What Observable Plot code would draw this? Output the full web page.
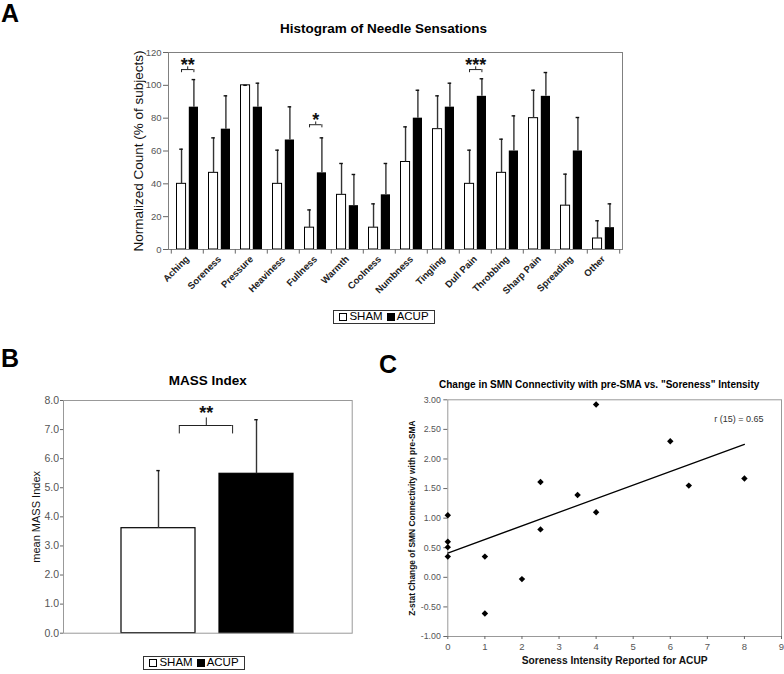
<!DOCTYPE html>
<html>
<head>
<meta charset="utf-8">
<script src="https://cdn.jsdelivr.net/npm/d3@7"></script>
<script src="https://cdn.jsdelivr.net/npm/@observablehq/plot@0.6"></script>
<style>
  html, body { margin: 0; padding: 0; background: #fff; }
  #root { position: relative; width: 784px; height: 674px; overflow: hidden;
          font-family: "Liberation Sans", Arial, Helvetica, sans-serif; color: #000; background: #fff; }
  #root svg { position: absolute; }
  .letter { position: absolute; font-weight: bold; font-size: 25px; line-height: 1; }
  .legend { position: absolute; box-sizing: border-box; border: 1px solid #333; background: #fff;
            font-size: 11.5px; line-height: 1; display: flex; align-items: center; justify-content: center;
            white-space: nowrap; }
  .legend .item { display: flex; align-items: center; margin: 0 2px; }
  .legend .sw { display: inline-block; width: 8px; height: 8px; border: 1px solid #000; box-sizing: border-box; margin-right: 2px; }
</style>
</head>
<body>
<div id="root"></div>
<script>
// ---------------- Panel A data ----------------
const categories = ["Aching", "Soreness", "Pressure", "Heaviness", "Fullness", "Warmth", "Coolness",
                    "Numbness", "Tingling", "Dull Pain", "Throbbing", "Sharp Pain", "Spreading", "Other"];
const groups = ["SHAM", "ACUP"];
const groupColors = ["#ffffff", "#000000"];
const shamCount = [40, 46.7, 100, 40, 13.3, 33.3, 13.3, 53.3, 73.3, 40, 46.7, 80, 26.7, 6.7];
const shamSD    = [21.1, 21.3, 0, 20.5, 10.8, 19.1, 14.5, 21.4, 20.3, 20.5, 20.5, 17.0, 19.2, 10.8];
const acupCount = [86.7, 73.3, 86.7, 66.7, 46.7, 26.7, 33.3, 80, 86.7, 93.3, 60, 93.3, 60, 13.3];
const acupSD    = [16.8, 20.3, 14.6, 20.2, 21.3, 19.0, 19.1, 17.0, 14.6, 10.7, 21.4, 14.5, 20.4, 14.5];
const countTicks = [0, 20, 40, 60, 80, 100, 120];
const sigCategories = ["Aching", "Fullness", "Dull Pain"];
const sigStars = ["**", "*", "***"];
const sigLevel = [109.6, 76, 109.6];

// ---------------- Panel B data ----------------
const massMean = [3.61, 5.48];
const massSD = [1.98, 1.86];
const massTicks = [0, 1, 2, 3, 4, 5, 6, 7, 8];
const massSigStars = ["**"];
const massSigLevel = [7.14];

// ---------------- Panel C data ----------------
const soreness = [0, 0, 0, 0, 1, 1, 2, 2.5, 2.5, 3.5, 4, 4, 6, 6.5, 8];
const zChange  = [1.05, 0.60, 0.51, 0.35, 0.35, -0.61, -0.03, 1.61, 0.81, 1.39, 2.92, 1.10, 2.30, 1.55, 1.67];
const sorenessTicks = [0, 1, 2, 3, 4, 5, 6, 7, 8, 9];
const zTicks = [-1, -0.5, 0, 0.5, 1, 1.5, 2, 2.5, 3];
const corrLabel = ["r (15) = 0.65"];

// ---------------- text ----------------
const titleA = "Histogram of Needle Sensations";
const yLabelA = "Normalized Count (% of subjects)";
const titleB = "MASS Index";
const yLabelB = "mean MASS Index";
const titleC = "Change in SMN Connectivity with pre-SMA vs. \"Soreness\" Intensity";
const yLabelC = "Z-stat Change of SMN Connectivity with pre-SMA";
const xLabelC = "Soreness Intensity Reported for ACUP";

const font = '"Liberation Sans", Arial, Helvetica, sans-serif';
const root = document.getElementById("root");

function place(svg, left, top) {
  svg.style.left = left + "px";
  svg.style.top = top + "px";
  root.appendChild(svg);
}
function letter(t, left, top) {
  const d = document.createElement("div");
  d.className = "letter"; d.textContent = t;
  d.style.left = left + "px"; d.style.top = top + "px";
  root.appendChild(d);
}
function legend(left, top, width, height) {
  const d = document.createElement("div");
  d.className = "legend";
  Object.assign(d.style, {left: left + "px", top: top + "px", width: width + "px", height: height + "px"});
  groups.forEach((g, i) => {
    const it = document.createElement("span"); it.className = "item";
    const sw = document.createElement("span"); sw.className = "sw"; sw.style.background = groupColors[i];
    it.appendChild(sw); it.appendChild(document.createTextNode(g));
    d.appendChild(it);
  });
  root.appendChild(d);
}

// ================= Panel A =================
const A = {w: 784, h: 300, left: 168, right: 622, top: 52, bottom: 249};
const bwA = (A.right - A.left) / categories.length;
const shamX0 = 5.5, shamX1 = 15, acupX0 = 17.8, acupX1 = bwA - 5;
const cS = (shamX0 + shamX1) / 2, cA = (acupX0 + acupX1) / 2, capHalf = 2;
const rowsA = categories.flatMap((c, i) => [
  {cat: c, group: groups[0], value: shamCount[i], sd: shamSD[i]},
  {cat: c, group: groups[1], value: acupCount[i], sd: acupSD[i]}
]);
const shamRows = rowsA.filter(d => d.group === groups[0]);
const acupRows = rowsA.filter(d => d.group === groups[1]);
const sigRows = sigCategories.map((c, i) => ({cat: c, stars: sigStars[i], level: sigLevel[i]}));
const errColor = "#333";

const plotA = Plot.plot({
  width: A.w, height: A.h,
  marginLeft: A.left, marginRight: A.w - A.right, marginTop: A.top, marginBottom: A.h - A.bottom,
  style: {fontFamily: font, background: "transparent", overflow: "visible"},
  x: {type: "band", domain: categories, padding: 0, axis: null},
  y: {domain: [0, 120], axis: null},
  marks: [
    Plot.barY(shamRows, {x: "cat", y: "value", fill: groupColors[0], stroke: "#000", strokeWidth: 1,
                         insetLeft: shamX0, insetRight: bwA - shamX1}),
    Plot.barY(acupRows, {x: "cat", y: "value", fill: groupColors[1], insetLeft: acupX0, insetRight: bwA - acupX1}),
    Plot.ruleX(shamRows, {x: "cat", y1: "value", y2: d => d.value + d.sd, dx: cS - bwA / 2, stroke: errColor, strokeWidth: 1.4}),
    Plot.ruleX(acupRows, {x: "cat", y1: "value", y2: d => d.value + d.sd, dx: cA - bwA / 2, stroke: errColor, strokeWidth: 1.4}),
    Plot.tickY(shamRows, {x: "cat", y: d => d.value + d.sd, insetLeft: cS - capHalf, insetRight: bwA - cS - capHalf, stroke: "#111", strokeWidth: 1.4}),
    Plot.tickY(acupRows, {x: "cat", y: d => d.value + d.sd, insetLeft: cA - capHalf, insetRight: bwA - cA - capHalf, stroke: "#111", strokeWidth: 1.4}),
    // significance brackets
    Plot.tickY(sigRows, {x: "cat", y: "level", insetLeft: cS, insetRight: bwA - cA, stroke: "#222"}),
    Plot.ruleX(sigRows, {x: "cat", dx: cS - bwA / 2, y1: "level", y2: d => d.level - 1.9, stroke: "#222"}),
    Plot.ruleX(sigRows, {x: "cat", dx: cA - bwA / 2, y1: "level", y2: d => d.level - 1.9, stroke: "#222"}),
    Plot.ruleX(sigRows, {x: "cat", dx: (cS + cA) / 2 - bwA / 2, y1: "level", y2: d => d.level + 1.7, stroke: "#222"}),
    Plot.text(sigRows, {x: "cat", y: d => d.level + 2.8, text: "stars", dx: (cS + cA) / 2 - bwA / 2,
                        fontSize: 18, fontWeight: "bold", fill: "#111"}),
    Plot.frame({stroke: "#808080"}),
    Plot.axisY(countTicks, {tickSize: 5, tickPadding: 2, fontSize: 9.5, stroke: "#666", fill: "#555", label: null}),
    Plot.axisX({tickSize: 0, tickPadding: 8, tickRotate: -45, fontSize: 9.5, fontWeight: "bold", fill: "#222", label: null}),
    Plot.ruleX(categories, {x: d => d, dx: -bwA / 2, y1: 0, y2: -2.8, stroke: "#666"}),
    Plot.ruleX(categories.slice(-1), {x: d => d, dx: bwA / 2, y1: 0, y2: -2.8, stroke: "#666"}),
    Plot.text([yLabelA], {text: d => d, frameAnchor: "left", textAnchor: "middle", rotate: -90, dx: -30, fontSize: 13.5, fill: "#111"}),
    Plot.text([titleA], {text: d => d, frameAnchor: "top", dx: -12, dy: -28.8, fontSize: 13.5, fontWeight: "bold"})
  ]
});
place(plotA, 0, 0);
letter("A", 1, 1);
legend(333, 310, 102, 14);

// ================= Panel B =================
const B = {x: 0, y: 330, w: 392, h: 320, left: 63, right: 351.7, top: 400, bottom: 632.7};
const padInnerB = 0.24, padOuterB = 0.59;
const stepB = (B.right - B.left) / (groups.length - padInnerB + 2 * padOuterB);
const bwB = stepB * (1 - padInnerB);
const rowsB = groups.map((g, i) => ({group: g, mean: massMean[i], sd: massSD[i]}));
const sigB = massSigStars.map((s, i) => ({from: groups[0], to: groups[1], stars: s, level: massSigLevel[i]}));
const legL = 20.8, legR = -23.9, stemB = 47.8;

const plotB = Plot.plot({
  width: B.w, height: B.h,
  marginLeft: B.left, marginRight: B.w - B.right, marginTop: B.top - B.y, marginBottom: B.y + B.h - B.bottom,
  style: {fontFamily: font, background: "transparent", overflow: "visible"},
  x: {type: "band", domain: groups, paddingInner: padInnerB, paddingOuter: padOuterB, axis: null},
  y: {domain: [0, 8], axis: null},
  color: {domain: groups, range: groupColors},
  marks: [
    Plot.barY(rowsB, {x: "group", y: "mean", fill: "group", stroke: "#000", strokeWidth: 1.2}),
    Plot.ruleX(rowsB, {x: "group", y1: "mean", y2: d => d.mean + d.sd, stroke: errColor, strokeWidth: 1.4}),
    Plot.tickY(rowsB, {x: "group", y: d => d.mean + d.sd, insetLeft: bwB / 2 - capHalf, insetRight: bwB / 2 - capHalf, stroke: "#111", strokeWidth: 1.4}),
    Plot.ruleY(sigB, {x1: "from", x2: "to", y: "level", insetLeft: bwB / 2 + legL, insetRight: bwB / 2 - legR, stroke: "#222"}),
    Plot.ruleX(sigB, {x: "from", dx: legL, y1: "level", y2: d => d.level - 0.29, stroke: "#222"}),
    Plot.ruleX(sigB, {x: "to", dx: legR, y1: "level", y2: d => d.level - 0.29, stroke: "#222"}),
    Plot.ruleX(sigB, {x: "from", dx: stemB, y1: "level", y2: d => d.level + 0.26, stroke: "#222"}),
    Plot.text(sigB, {x: "from", dx: stemB, y: d => d.level + 0.41, text: "stars", fontSize: 18, fontWeight: "bold", fill: "#111"}),
    Plot.frame({stroke: "#999"}),
    Plot.axisY(massTicks, {tickSize: 3, tickPadding: 1.5, tickFormat: d => d.toFixed(1), fontSize: 10.5, stroke: "#666", fill: "#555", label: null}),
    Plot.text([yLabelB], {text: d => d, frameAnchor: "left", textAnchor: "middle", rotate: -90, dx: -27.5, fontSize: 11, fill: "#111"}),
    Plot.text([titleB], {text: d => d, frameAnchor: "top", dy: -25, fontSize: 13.5, fontWeight: "bold"})
  ]
});
place(plotB, B.x, B.y);
letter("B", 1, 346);
legend(143, 656, 102, 14);

// ================= Panel C =================
const C = {x: 392, y: 330, w: 392, h: 344, left: 447.3, right: 781, top: 399.3, bottom: 636};
const rowsC = soreness.map((s, i) => ({s, z: zChange[i]}));

const plotC = Plot.plot({
  width: C.w, height: C.h,
  marginLeft: C.left - C.x, marginRight: C.x + C.w - C.right, marginTop: C.top - C.y, marginBottom: C.y + C.h - C.bottom,
  style: {fontFamily: font, background: "transparent", overflow: "visible"},
  x: {domain: [0, 9], axis: null},
  y: {domain: [-1, 3], axis: null},
  marks: [
    Plot.frame({stroke: "#999"}),
    Plot.axisY(zTicks, {tickSize: 4, tickPadding: 3, tickFormat: d => d.toFixed(2), fontSize: 8.8, stroke: "#666", fill: "#555", label: null}),
    Plot.axisX(sorenessTicks, {tickSize: 3, tickPadding: 4, fontSize: 9.5, stroke: "#666", fill: "#555", label: null}),
    Plot.linearRegressionY(rowsC, {x: "s", y: "z", stroke: "#000", strokeWidth: 1.3, ci: 0}),
    Plot.dot(rowsC, {x: "s", y: "z", symbol: "diamond2", r: 2.9, fill: "#000", stroke: "none"}),
    Plot.text(corrLabel, {text: d => d, frameAnchor: "top-right", dx: -18, dy: 15.7, textAnchor: "end", fontSize: 9, fill: "#333"}),
    Plot.text([yLabelC], {text: d => d, frameAnchor: "left", textAnchor: "middle", rotate: -90, dx: -35.3, fontSize: 8.4, fontWeight: "bold", fill: "#111"}),
    Plot.text([xLabelC], {text: d => d, frameAnchor: "bottom", dy: 27, fontSize: 10.2, fontWeight: "bold", fill: "#111"}),
    Plot.text([titleC], {text: d => d, frameAnchor: "top", dx: -15.5, dy: -19.3, fontSize: 10, fontWeight: "bold"})
  ]
});
place(plotC, C.x, C.y);
letter("C", 379, 352);
</script>
</body>
</html>
